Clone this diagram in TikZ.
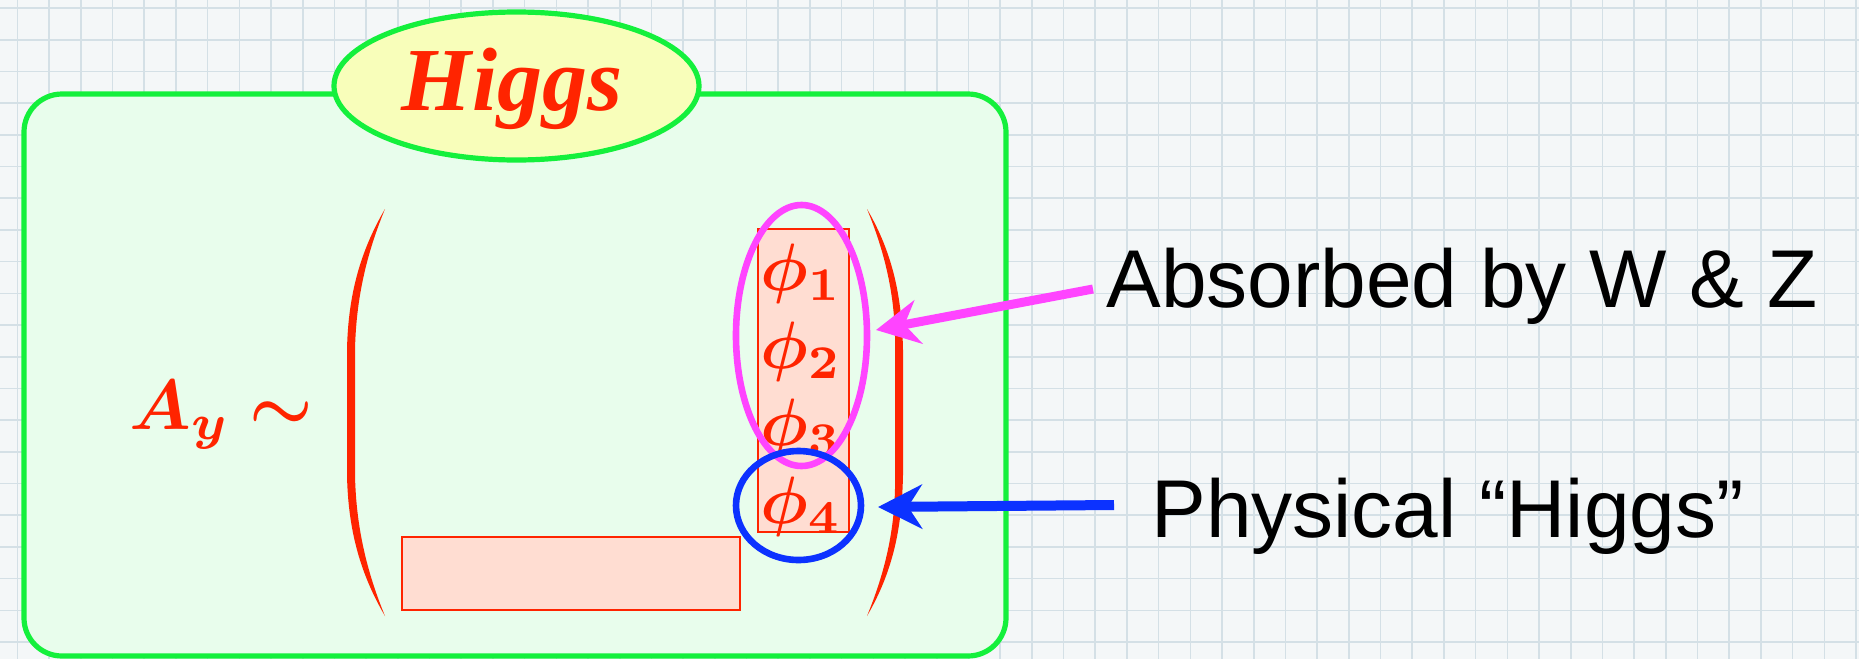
\documentclass[tikz,border=0pt]{standalone}
\usepackage{amsmath}
\usepackage{bm}
\usepackage[no-math]{fontspec}
\newfontfamily\lblfont{Liberation Sans}
\newfontfamily\higgsfont{Liberation Serif}
\usetikzlibrary{arrows.meta,shapes.geometric}
\definecolor{hgreen}{RGB}{20,240,60}
\definecolor{boxfill}{RGB}{232,253,236}
\definecolor{yfill}{RGB}{248,254,186}
\definecolor{hred}{RGB}{255,36,0}
\definecolor{peach}{RGB}{255,221,210}
\definecolor{hmag}{RGB}{255,68,255}
\definecolor{hblue}{RGB}{12,50,255}
\definecolor{bgc}{RGB}{244,247,248}
\definecolor{gridc}{RGB}{212,224,230}
\begin{document}
\begin{tikzpicture}[x=0.5pt,y=-0.5pt,
  lbl/.style={font=\lblfont\fontsize{41}{49}\selectfont, text=black, inner sep=0pt},
  phi/.style={font=\fontsize{10}{12}\selectfont, text=hred, inner sep=0pt, scale=3.35},
  peachbox/.style={draw=hred, fill=peach, line width=1pt},
  paren/.style={fill=hred},
  magarrow/.style={hmag, line width=4.5pt, -{Stealth[length=21.5pt,width=22pt,inset=7pt]}},
  bluarrow/.style={hblue, line width=5pt, -{Stealth[length=22pt,width=22pt,inset=7pt]}}]
\useasboundingbox (0,0) rectangle (1859,659);
\fill[bgc] (0,0) rectangle (1859,659);
\foreach \i in {0,...,58} \draw[gridc, line width=0.8pt] (17.4+31.7*\i,0) -- (17.4+31.7*\i,659);
\foreach \j in {0,...,20} \draw[gridc, line width=0.8pt] (0,8+31.7*\j) -- (1859,8+31.7*\j);
% main box
\draw[hgreen, line width=2.6pt, fill=boxfill, rounded corners=19pt] (24,94) rectangle (1006,656);
% Higgs ellipse
\node[draw=hgreen, fill=yfill, ellipse, line width=2.6pt, minimum width=182.5pt, minimum height=74pt, inner sep=0pt] (higgsell) at (516.5,86) {};
\node[font=\higgsfont\bfseries\itshape\fontsize{45}{52}\selectfont, text=hred, inner sep=0pt, anchor=base] (higgs) at (512,110) {Higgs};
% A_y
\node[phi, anchor=base west, scale=1.06] (ay) at (128,429) {$\bm{A_y \sim}$};
% parentheses
\fill[paren] (385,209) .. controls (358,255) and (348,300) .. (347,350) -- (347,475) .. controls (348,525) and (358,570) .. (385,616)
  .. controls (366,570) and (356,525) .. (355,475) -- (355,350) .. controls (356,300) and (366,255) .. (385,209) -- cycle;
\fill[paren] (867,209) .. controls (894,255) and (902,300) .. (903,350) -- (903,475) .. controls (902,525) and (894,570) .. (867,616)
  .. controls (886,570) and (896,525) .. (895,475) -- (895,350) .. controls (896,300) and (886,255) .. (867,209) -- cycle;
% boxes
\draw[peachbox] (758,229) rectangle (849,532);
\draw[peachbox] (402,537) rectangle (740,610);
% phis
\node[phi, anchor=base] (p1) at (801,290) {$\bm{\phi_1}$};
\node[phi, anchor=base] (p2) at (801,368) {$\bm{\phi_2}$};
\node[phi, anchor=base] (p3) at (801,445) {$\bm{\phi_3}$};
\node[phi, anchor=base] (p4) at (801,523) {$\bm{\phi_4}$};
% ellipses
\draw[hmag, line width=3.3pt] (801.5,335.5) ellipse [x radius=65.5, y radius=130.5];
\draw[hblue, line width=3.3pt] (798.5,505.5) ellipse [x radius=62.5, y radius=54.5];
% labels
\node[lbl, anchor=base west] (absorbed) at (1106,307) {Absorbed by W \& Z};
\node[lbl, anchor=base west] (physical) at (1151,537) {Physical “Higgs”};
% arrows
\coordinate (magtail) at (1093,289);
\coordinate (magtip) at (876,330);
\coordinate (blutail) at (1114,505);
\coordinate (blutip) at (878,507);
\draw[magarrow] (magtail) -- (magtip);
\draw[bluarrow] (blutail) -- (blutip);
\end{tikzpicture}
\end{document}
